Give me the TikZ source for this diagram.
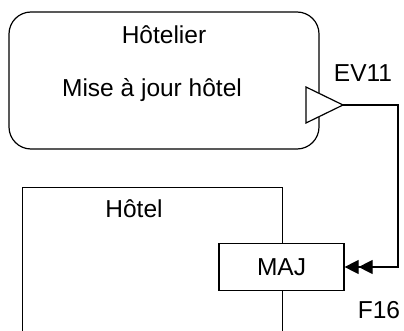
\documentclass[tikz,border=0pt]{standalone}
\usepackage{fontspec}
\setmainfont{Liberation Sans}
\usetikzlibrary{arrows.meta}
\tikzset{
  lbl/.style={anchor=base, inner sep=0pt, font=\fontsize{24.5}{29}\selectfont},
  box/.style={draw, line width=1.2pt},
  flow/.style={line width=1.2pt, -{Triangle[length=14pt,width=14pt]Triangle[length=14pt,width=14pt]}}
}
\begin{document}
\begin{tikzpicture}[x=1pt,y=-1pt]
\useasboundingbox (0,0) rectangle (404,331);
\clip (0,0) rectangle (404,331);
% Hotelier
\node[box, rounded corners=22pt, minimum width=310pt, minimum height=137pt, inner sep=0pt] (hotelier) at (164,80.5) {};
\node[lbl] (t1) at (164,44) {Hôtelier};
\node[lbl] (t2) at (152,97) {Mise à jour hôtel};
% port triangle
\coordinate (ev) at (343,105);
\coordinate (pa) at (306,87);
\coordinate (pb) at (306,123);
\draw[box, fill=white, line join=miter] (pa) -- (ev) -- (pb) -- cycle;
\node[lbl] (ev11) at (363,82) {EV11};
% Hotel
\node[box, minimum width=260pt, minimum height=200pt, inner sep=0pt, anchor=north west] (hotel) at (22,187) {};
\node[lbl] (t3) at (134,218) {Hôtel};
% MAJ
\node[box, fill=white, minimum width=125pt, minimum height=47pt, inner sep=0pt, font=\fontsize{24.5}{29}\selectfont] (maj) at (281.5,267) {MAJ};
\node[lbl] (f16) at (379,318) {F16};
% connector
\coordinate (c) at (398,267);
\draw[flow] (ev) -| (c) -- (maj.east);
\end{tikzpicture}
\end{document}
